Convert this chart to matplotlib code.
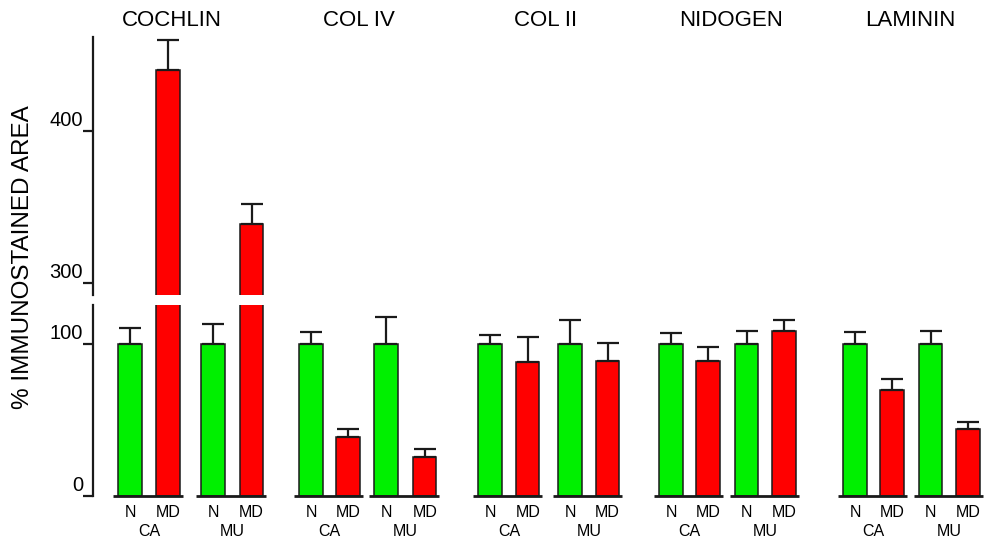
import matplotlib.pyplot as plt

plt.rcParams['font.family'] = ['Liberation Sans', 'DejaVu Sans']

# datos (orden: CA N, CA MD, MU N, MU MD)
grupos = ['COCHLIN', 'COL IV', 'COL II', 'NIDOGEN', 'LAMININ']
condiciones = ['N', 'MD', 'N', 'MD']
regiones = ['CA', 'MU']
valores = [
    [100, 440, 100, 338.6],
    [100, 39, 100, 25.7],
    [100, 88.3, 100, 89],
    [100, 89, 100, 109],
    [100, 70, 100, 44],
]
errores = [
    [11, 20, 13.6, 13],
    [8, 5.5, 18, 5.3],
    [6.4, 16.7, 16, 12],
    [7.3, 9, 9, 7],
    [8.4, 7, 9, 5],
]

# posiciones de las barras (en pixeles de la figura)
pos_x = [
    [130, 168, 213, 251.6],
    [311, 348, 386, 424.7],
    [490, 527.7, 570, 607.5],
    [671, 708, 746.5, 784],
    [855, 892, 930.5, 968],
]
titulo_x = [172, 359, 546, 731, 910]
ancho = 23.5
colores = ['#00f000', '#ff0000', '#00f000', '#ff0000']
borde = '#1a1a1a'

fig = plt.figure(figsize=(9.96, 5.40), dpi=100)
W, H = 996, 540
x0, x1 = 93, 990
ax_bajo = fig.add_axes([x0 / W, 1 - 496.2 / H, (x1 - x0) / W, (496.2 - 304.7) / H])
ax_alto = fig.add_axes([x0 / W, 1 - 295 / H, (x1 - x0) / W, (295 - 37.1) / H])

for ax, lims, ticks in [(ax_bajo, (0, 126.2), [0, 100]), (ax_alto, (291.9, 462), [300, 400])]:
    for g in range(len(grupos)):
        for i in range(4):
            ax.bar(pos_x[g][i], valores[g][i], width=ancho, color=colores[i],
                   edgecolor=borde, linewidth=1.1, zorder=2)
            ax.errorbar(pos_x[g][i], valores[g][i], yerr=[[0], [errores[g][i]]],
                        fmt='none', ecolor=borde, elinewidth=1.6, capsize=8,
                        capthick=1.6, zorder=3)
    ax.set_xlim(x0, x1)
    ax.set_ylim(*lims)
    ax.set_yticks(ticks)
    ax.set_yticklabels([])
    ax.set_xticks([])
    for s in ['top', 'right', 'bottom']:
        ax.spines[s].set_visible(False)
    ax.spines['left'].set_linewidth(1.6)
    ax.spines['left'].set_color(borde)
    ax.tick_params(axis='y', length=7.5, width=1.6, color=borde)
    ax.patch.set_alpha(0)
    # etiquetas encima de cada marca, como en el original
    for t in ticks:
        ax.annotate(str(t), xy=(0, t), xycoords=('axes fraction', 'data'),
                    xytext=(-10, 1), textcoords='offset pixels',
                    ha='right', va='bottom', fontsize=14.5)

# lineas de base por par y etiquetas
for g in range(len(grupos)):
    for k in range(2):
        a, b = pos_x[g][2 * k], pos_x[g][2 * k + 1]
        ax_bajo.plot([a - ancho / 2 - 5, b + ancho / 2 + 3], [0, 0], color=borde,
                     lw=2, clip_on=False, solid_capstyle='butt', zorder=4)
        ax_bajo.text((a + b) / 2, -23, regiones[k], ha='center', va='center', fontsize=11.5)
    for i in range(4):
        ax_bajo.text(pos_x[g][i], -11, condiciones[i], ha='center', va='center', fontsize=11.5)
    fig.text(titulo_x[g] / W, 1 - 20 / H, grupos[g], ha='center', va='center', fontsize=16)

fig.text(23 / W, 1 - 257 / H, '% IMMUNOSTAINED AREA', rotation=90,
         ha='center', va='center', fontsize=17.5)

fig.savefig('out.png', dpi=100)
